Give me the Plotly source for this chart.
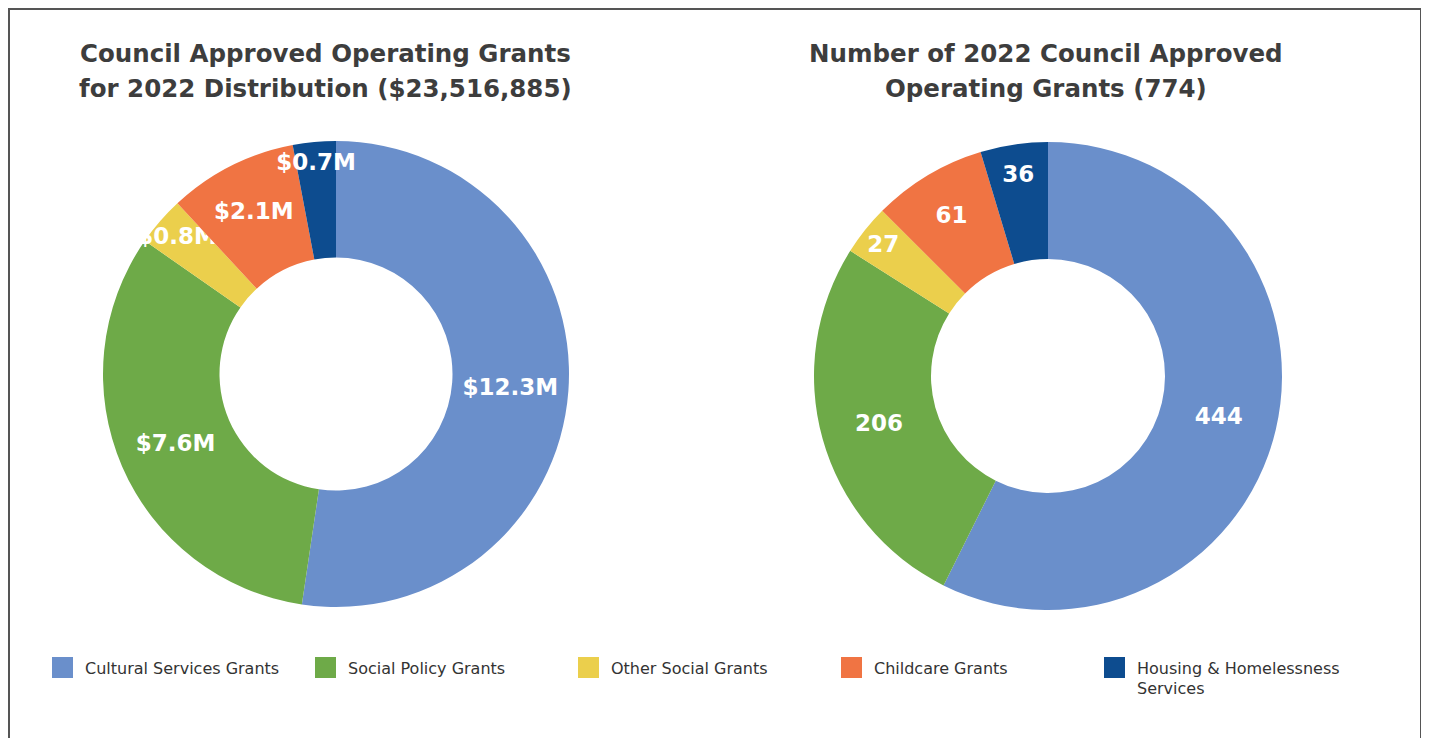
import plotly.graph_objects as go

categories = ["Cultural Services Grants", "Social Policy Grants", "Other Social Grants",
              "Childcare Grants", "Housing & Homelessness<br>Services"]
amounts_m = [12.3, 7.6, 0.8, 2.1, 0.7]
counts = [444, 206, 27, 61, 36]
colors = ["#6A8FCB", "#6EAA48", "#EBCF4C", "#F07443", "#0D4C8F"]

title_left = ["Council Approved Operating Grants", "for 2022 Distribution ($23,516,885)"]
title_right = ["Number of 2022 Council Approved", "Operating Grants (774)"]

W, H = 1429, 738
FONT = "DejaVu Sans"


def fx(px):
    return px / W


def fy(px_from_top):
    return (H - px_from_top) / H


fig = go.Figure()
fig.add_trace(go.Pie(
    labels=categories, values=amounts_m, hole=0.5, sort=False, direction="clockwise",
    rotation=0, marker=dict(colors=colors, line=dict(width=0)),
    texttemplate="$%{value}M", textposition="inside", insidetextorientation="horizontal",
    textfont=dict(family=FONT, size=23, color="white", weight="bold"),
    domain=dict(x=[fx(95), fx(561)], y=[fy(599), fy(133)]),
    showlegend=False, name="Amount",
))
fig.add_trace(go.Pie(
    labels=categories, values=counts, hole=0.5, sort=False, direction="clockwise",
    rotation=0, marker=dict(colors=colors, line=dict(width=0)),
    texttemplate="%{value}", textposition="inside", insidetextorientation="horizontal",
    textfont=dict(family=FONT, size=23, color="white", weight="bold"),
    domain=dict(x=[fx(806), fx(1274)], y=[fy(602), fy(134)]),
    showlegend=False, name="Count",
))

# legend entries (square swatches) for the categories
for cat, col in zip(categories, colors):
    fig.add_trace(go.Scatter(
        x=[None], y=[None], mode="markers", name=cat,
        marker=dict(symbol="square", size=16, color=col, line=dict(color=col, width=5)),
        showlegend=True, hoverinfo="skip",
    ))

title_font = dict(family=FONT, size=24.5, color="#3d3d3d", weight="bold")
for cx, lines in ((317, title_left), (1038, title_right)):
    for ly, line in zip((45, 81), lines):
        fig.add_annotation(text=line, x=fx(cx), y=fy(ly), xref="paper", yref="paper",
                           showarrow=False, xanchor="center", yanchor="middle",
                           font=title_font)

fig.add_shape(type="rect", xref="paper", yref="paper", x0=fx(1), x1=fx(1413),
              y0=-0.05, y1=fy(1), line=dict(color="#555555", width=2))

fig.update_layout(
    width=W, height=H,
    margin=dict(l=0, r=0, t=0, b=0),
    paper_bgcolor="white", plot_bgcolor="white",
    xaxis=dict(visible=False), yaxis=dict(visible=False),
    uniformtext=dict(minsize=23, mode="show"),
    legend=dict(orientation="h", x=fx(32), y=fy(670), xanchor="left", yanchor="middle",
                itemwidth=35, entrywidth=213, entrywidthmode="pixels", valign="top",
                font=dict(family=FONT, size=16, color="#333333"), traceorder="normal"),
)

fig.write_html("out.html")
